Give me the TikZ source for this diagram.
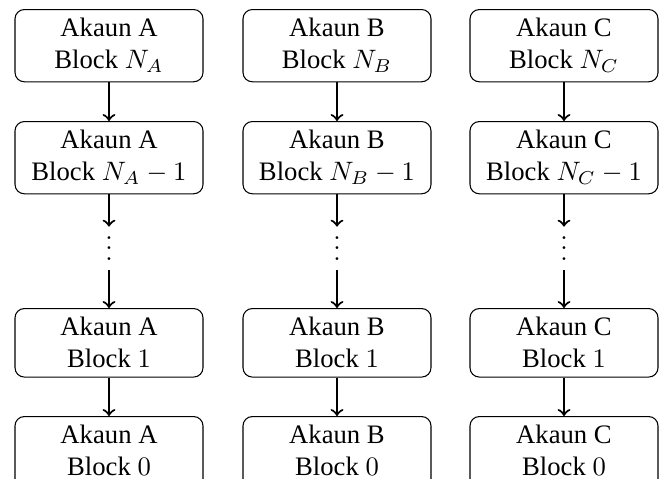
\documentclass[tikz,border=0pt]{standalone}
\usepackage{fontspec}
\setmainfont{Liberation Serif}
\newcommand{\mydots}{\vbox{\baselineskip4pt\lineskiplimit0pt\hbox{$.$}\hbox{$.$}\hbox{$.$}}}
\begin{document}
\begin{tikzpicture}[x=0.375pt,y=-0.375pt,
  blk/.style={draw,rounded corners=3.5pt,minimum width=70.5pt,align=center,anchor=north,inner sep=3.33pt,font=\fontsize{10}{12}\selectfont},
  dotsnode/.style={inner sep=0pt,minimum height=16pt,font=\fontsize{10}{12}\selectfont},
  link/.style={->,thick}]
\clip (0,0) rectangle (662,478);
\foreach \c/\x in {A/109,B/337,C/564}{
  \node[blk] (\c1) at (\x,9) {Akaun \c\\Block $N_\c$};
  \node[blk] (\c2) at (\x,121) {Akaun \c\\Block $N_\c-1$};
  \node[dotsnode] (\c d) at (\x,248.5) {\mydots};
  \node[blk] (\c3) at (\x,308) {Akaun \c\\Block $1$};
  \node[blk] (\c4) at (\x,416) {Akaun \c\\Block $0$\\[10pt]};
  \draw[link] (\c1) -- (\c2);
  \draw[link] (\c2) -- (\c d);
  \draw[link] (\c d) -- (\c3);
  \draw[link] (\c3) -- (\c4);
}
\end{tikzpicture}
\end{document}
